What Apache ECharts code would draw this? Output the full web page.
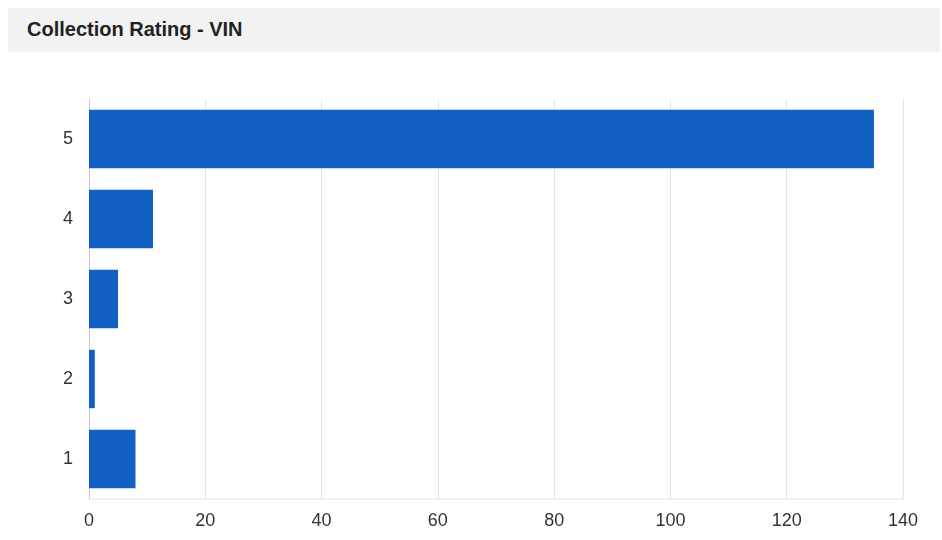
<!DOCTYPE html>
<html>
<head>
<meta charset="utf-8">
<script src="https://cdn.jsdelivr.net/npm/echarts@6/dist/echarts.min.js"></script>
<style>
html,body{margin:0;padding:0;background:#fff;}
#title{position:absolute;left:8px;top:8px;width:932px;height:44px;background:#f2f2f2;}
#title span{position:absolute;left:19px;top:10px;font:bold 20px "Liberation Sans",Arial,sans-serif;color:#222;}
#chart{position:absolute;left:0;top:0;width:942px;height:540px;}
</style>
</head>
<body>
<div id="title"><span>Collection Rating - VIN</span></div>
<div id="chart"></div>
<script>
const categories = ['1', '2', '3', '4', '5'];
const counts = [8, 1, 5, 11, 135];
const xTicks = [0, 20, 40, 60, 80, 100, 120, 140];

const chart = echarts.init(document.getElementById('chart'));
chart.setOption({
  animation: false,
  grid: { left: 89, right: 39, top: 99, bottom: 41 },
  xAxis: {
    type: 'value', min: xTicks[0], max: xTicks[xTicks.length - 1], interval: 20,
    axisLine: { show: false },
    axisTick: { show: false },
    splitLine: { lineStyle: { color: '#e6e6e6', width: 1 } },
    axisLabel: { color: '#333', fontSize: 18, fontFamily: 'Liberation Sans, Arial, sans-serif', margin: 13 }
  },
  yAxis: {
    type: 'category', data: categories,
    axisLine: { show: true, lineStyle: { color: '#cccccc' } },
    axisTick: { show: false },
    axisLabel: { color: '#333', fontSize: 18, fontFamily: 'Liberation Sans, Arial, sans-serif', margin: 16 }
  },
  series: [{
    type: 'bar', data: counts, barCategoryGap: '27%',
    itemStyle: { color: '#1160c2' }
  }],
  graphic: [{ type: 'line', shape: { x1: 89, y1: 499, x2: 903, y2: 499 }, style: { stroke: '#e6e6e6', lineWidth: 1 }, z: 0 }]
});
</script>
</body>
</html>
